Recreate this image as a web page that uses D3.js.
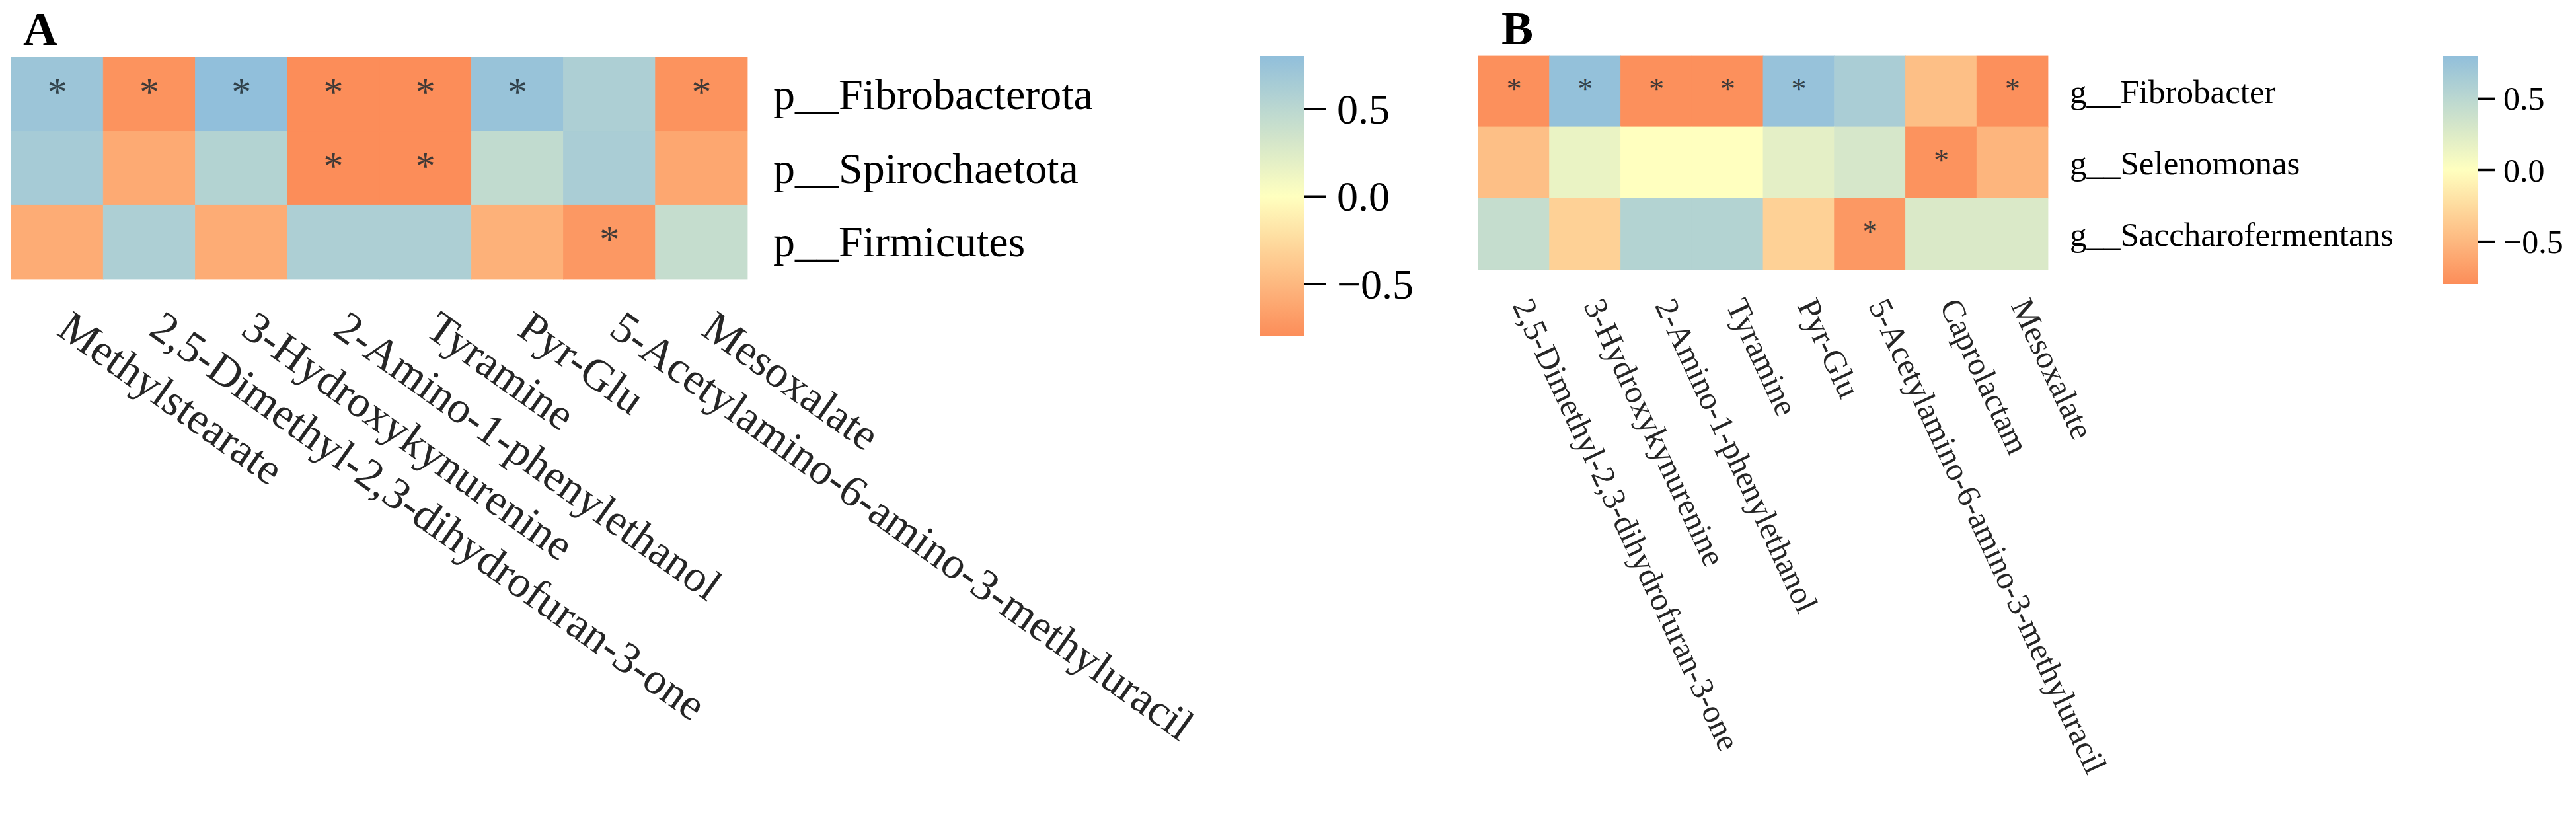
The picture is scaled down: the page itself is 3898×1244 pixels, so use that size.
<!DOCTYPE html>
<html><head><meta charset="utf-8">
<script src="https://cdn.jsdelivr.net/npm/d3@7"></script>
<style>
body{margin:0;background:#fff}
svg{display:block}
text{font-family:"Liberation Serif","Times New Roman",serif}
</style>
</head><body>
<svg id="chart" width="3898" height="1244"></svg>
<script>
// ---------------- DATA ----------------
const metabolitesA = ["Methylstearate","2,5-Dimethyl-2,3-dihydrofuran-3-one","3-Hydroxykynurenine","2-Amino-1-phenylethanol","Tyramine","Pyr-Glu","5-Acetylamino-6-amino-3-methyluracil","Mesoxalate"];
const taxaA = ["p__Fibrobacterota","p__Spirochaetota","p__Firmicutes"];
const valuesA = [
  [0.72,-0.76,0.80,-0.80,-0.80,0.75,0.60,-0.76],
  [0.65,-0.60,0.55,-0.80,-0.80,0.45,0.62,-0.62],
  [-0.58,0.60,-0.58,0.60,0.60,-0.55,-0.72,0.42]
];
const signifA = [
  [1,1,1,1,1,1,0,1],
  [0,0,0,1,1,0,0,0],
  [0,0,0,0,0,0,1,0]
];

const metabolitesB = ["2,5-Dimethyl-2,3-dihydrofuran-3-one","3-Hydroxykynurenine","2-Amino-1-phenylethanol","Tyramine","Pyr-Glu","5-Acetylamino-6-amino-3-methyluracil","Caprolactam","Mesoxalate"];
const taxaB = ["g__Fibrobacter","g__Selenomonas","g__Saccharofermentans"];
const valuesB = [
  [-0.78,0.78,-0.78,-0.78,0.76,0.62,-0.45,-0.78],
  [-0.45,0.15,0.0,0.0,0.20,0.30,-0.76,-0.52],
  [0.42,-0.32,0.55,0.55,-0.32,-0.72,0.27,0.27]
];
const signifB = [
  [1,1,1,1,1,0,0,1],
  [0,0,0,0,0,0,1,0],
  [0,0,0,0,0,1,0,0]
];

const colorbarTicks = [-0.5, 0, 0.5];
const colorDomain = [-0.8, 0, 0.8];
const colorRange = ["#fc8d59", "#ffffbf", "#91bfdb"];

// ---------------- DRAW ----------------
const svg = d3.select("#chart");
const color = d3.scaleLinear().domain(colorDomain).range(colorRange);
const defs = svg.append("defs");

function drawPanel(cfg) {
  const g = svg.append("g");
  const x = d3.scaleBand().domain(cfg.cols).range([cfg.x0, cfg.x1]);
  const y = d3.scaleBand().domain(cfg.rows).range([cfg.y0, cfg.y1]);

  const cells = [];
  cfg.rows.forEach((r, i) => cfg.cols.forEach((c, j) => cells.push({r, c, v: cfg.values[i][j], s: cfg.sig[i][j]})));

  g.selectAll("rect.cell").data(cells).join("rect")
    .attr("class", "cell")
    .attr("x", d => x(d.c)).attr("y", d => y(d.r))
    .attr("width", x.bandwidth()).attr("height", y.bandwidth())
    .attr("fill", d => color(d.v))
    .attr("stroke", d => color(d.v)).attr("stroke-width", 0.8);

  g.selectAll("text.star").data(cells.filter(d => d.s)).join("text")
    .attr("class", "star")
    .attr("x", d => x(d.c) + x.bandwidth() / 2)
    .attr("y", d => y(d.r) + y.bandwidth() / 2 + cfg.starDy)
    .attr("text-anchor", "middle")
    .attr("font-size", cfg.starSize)
    .attr("fill", "#1f2a30").attr("fill-opacity", 0.85)
    .text("*");

  // row labels (right side)
  g.selectAll("text.rowlab").data(cfg.rows).join("text")
    .attr("class", "rowlab")
    .attr("x", cfg.x1 + cfg.rowGap)
    .attr("y", d => y(d) + y.bandwidth() / 2 + cfg.rowDy)
    .attr("font-size", cfg.fontSize)
    .attr("fill", "#000")
    .text(d => d);

  // column labels (rotated)
  g.selectAll("text.collab").data(cfg.cols).join("text")
    .attr("class", "collab")
    .attr("transform", d => `translate(${x(d) + x.bandwidth() / 2 - 3},${cfg.colLabY}) rotate(${cfg.angle})`)
    .attr("font-size", cfg.colFont)
    .attr("fill", "#262626")
    .text(d => d);

  // panel letter
  g.append("text")
    .attr("x", cfg.letterX).attr("y", cfg.letterY)
    .attr("font-size", 72).attr("font-weight", "bold")
    .text(cfg.letter);

  // colorbar
  const gid = "grad" + cfg.letter;
  const grad = defs.append("linearGradient").attr("id", gid)
    .attr("x1", 0).attr("y1", 1).attr("x2", 0).attr("y2", 0);
  d3.range(0, 21).forEach(i => {
    const v = colorDomain[0] + (colorDomain[2] - colorDomain[0]) * i / 20;
    grad.append("stop").attr("offset", (i / 20)).attr("stop-color", color(v));
  });
  const cy = d3.scaleLinear().domain([colorDomain[0], colorDomain[2]]).range([cfg.cbY1, cfg.cbY0]);
  g.append("rect")
    .attr("x", cfg.cbX).attr("y", cfg.cbY0)
    .attr("width", cfg.cbW).attr("height", cfg.cbY1 - cfg.cbY0)
    .attr("fill", `url(#${gid})`);
  const axis = d3.axisRight(cy).tickValues(colorbarTicks)
    .tickSize(cfg.tickLen).tickPadding(cfg.tickPad)
    .tickFormat(d3.format(".1f"));
  const ag = g.append("g").attr("transform", `translate(${cfg.cbX + cfg.cbW},0)`).call(axis);
  ag.select(".domain").remove();
  ag.selectAll(".tick line").attr("stroke", "#000").attr("stroke-width", cfg.tickW);
  ag.selectAll(".tick text")
    .attr("font-family", '"Liberation Serif","Times New Roman",serif')
    .attr("font-size", cfg.cbFont).attr("fill", "#000").attr("dy", "0.34em");
}

drawPanel({
  letter: "A", letterX: 35, letterY: 68,
  cols: metabolitesA, rows: taxaA, values: valuesA, sig: signifA,
  x0: 17, x1: 1131, y0: 87, y1: 422,
  fontSize: 66, colFont: 67, rowGap: 39, rowDy: 22,
  starSize: 60, starDy: 16,
  colLabY: 505, angle: 35.5,
  cbX: 1906, cbW: 67, cbY0: 85, cbY1: 509,
  tickLen: 34, tickPad: 16, tickW: 4, cbFont: 64
});

drawPanel({
  letter: "B", letterX: 2272, letterY: 67,
  cols: metabolitesB, rows: taxaB, values: valuesB, sig: signifB,
  x0: 2237, x1: 3099, y0: 84, y1: 408,
  fontSize: 51, colFont: 49.5, rowGap: 33, rowDy: 18,
  starSize: 46, starDy: 12,
  colLabY: 462, angle: 65,
  cbX: 3697, cbW: 52, cbY0: 84, cbY1: 430,
  tickLen: 26, tickPad: 13, tickW: 3.5, cbFont: 50
});
</script>
</body></html>
